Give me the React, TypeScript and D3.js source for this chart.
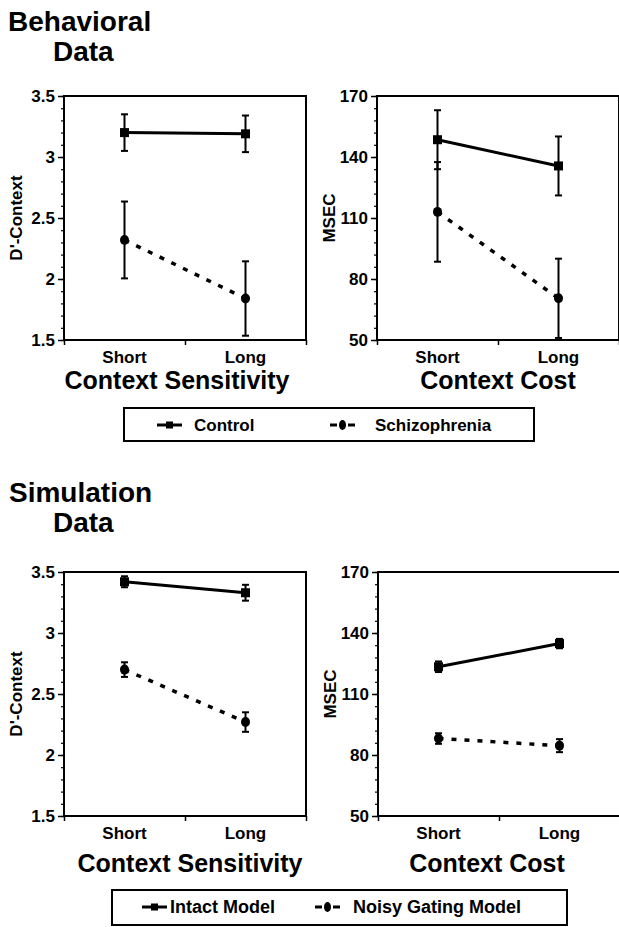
import React, { useEffect, useRef } from 'react';
import * as d3 from 'd3';

// categories on the x axis
const categories = ['Short', 'Long'];

// y axis tick labels
const dPrimeTicks = [1.5, 2, 2.5, 3, 3.5];
const msecTicks = [50, 80, 110, 140, 170];

// behavioral data
const behavControlD = [3.2, 3.19];
const behavControlDErr = [0.15, 0.15];
const behavSchizD = [2.32, 1.84];
const behavSchizDErr = [0.315, 0.305];
const behavControlMs = [148.5, 135.6];
const behavControlMsErr = [14.5, 14.5];
const behavSchizMs = [113, 70.5];
const behavSchizMsErr = [24.5, 19.5];

// simulation data
const simIntactD = [3.42, 3.33];
const simIntactDErr = [0.045, 0.065];
const simNoisyD = [2.7, 2.27];
const simNoisyDErr = [0.06, 0.08];
const simIntactMs = [123.4, 134.8];
const simIntactMsErr = [2.6, 2.3];
const simNoisyMs = [88.1, 84.6];
const simNoisyMsErr = [2.6, 3.2];

const FONT = '"Liberation Sans", Arial, Helvetica, sans-serif';
const W = 242;
const H = 244;

const panels = [
  { x0: 64, y0: 96, ticks: dPrimeTicks, minor: 0.1, yTitle: "D'-Context", xTitle: 'Context Sensitivity', titleCx: 177, titleY: 389,
    solid: behavControlD, solidErr: behavControlDErr, dotted: behavSchizD, dottedErr: behavSchizDErr },
  { x0: 377, y0: 96, ticks: msecTicks, minor: 6, yTitle: 'MSEC', xTitle: 'Context Cost', titleCx: 498, titleY: 389,
    solid: behavControlMs, solidErr: behavControlMsErr, dotted: behavSchizMs, dottedErr: behavSchizMsErr },
  { x0: 64, y0: 572, ticks: dPrimeTicks, minor: 0.1, yTitle: "D'-Context", xTitle: 'Context Sensitivity', titleCx: 190, titleY: 872,
    solid: simIntactD, solidErr: simIntactDErr, dotted: simNoisyD, dottedErr: simNoisyDErr },
  { x0: 378, y0: 572, ticks: msecTicks, minor: 6, yTitle: 'MSEC', xTitle: 'Context Cost', titleCx: 487, titleY: 872,
    solid: simIntactMs, solidErr: simIntactMsErr, dotted: simNoisyMs, dottedErr: simNoisyMsErr },
];

function useD3(render: (svg: any) => void, deps: any[]) {
  const ref = useRef<SVGSVGElement>(null);
  useEffect(() => {
    const svg = d3.select(ref.current);
    svg.selectAll('*').remove();
    render(svg);
  }, deps);
  return ref;
}

export default function App() {
  const ref = useD3((svg) => {
    svg.attr('font-family', FONT).attr('font-weight', 'bold');

    // section titles
    const titles = [
      { t: 'Behavioral', x: 8, y: 31 },
      { t: 'Data', x: 53, y: 61 },
      { t: 'Simulation', x: 9, y: 502 },
      { t: 'Data', x: 53, y: 532 },
    ];
    svg.selectAll('text.title').data(titles).enter().append('text')
      .attr('class', 'title')
      .attr('x', (d: any) => d.x).attr('y', (d: any) => d.y)
      .attr('font-size', 28)
      .text((d: any) => d.t);

    panels.forEach((p) => {
      const g = svg.append('g').attr('transform', `translate(${p.x0},${p.y0})`);
      const lo = p.ticks[0];
      const hi = p.ticks[p.ticks.length - 1];
      const y = d3.scaleLinear().domain([lo, hi]).range([H, 0]);
      const x = d3.scalePoint().domain(categories).range([0, W]).padding(0.5);

      // minor ticks
      const minorTicks = d3.range(lo, hi + p.minor / 2, p.minor);
      const minorAxis = g.append('g').call(d3.axisLeft(y).tickValues(minorTicks).tickSize(3).tickFormat(() => ''));
      minorAxis.select('.domain').remove();
      minorAxis.selectAll('line').attr('stroke-width', 1.2);

      // major ticks
      const yAxis = g.append('g').call(d3.axisLeft(y).tickValues(p.ticks).tickSize(6).tickPadding(3).tickFormat((d: any) => String(d)));
      yAxis.select('.domain').remove();
      yAxis.selectAll('line').attr('stroke-width', 1.5);
      yAxis.selectAll('text').attr('font-size', 17).attr('font-family', FONT).attr('font-weight', 'bold').attr('fill', '#000');

      // x ticks at box edges and middle
      const xEdge = d3.scaleLinear().domain([0, 1]).range([0, W]);
      const xAxis = g.append('g').attr('transform', `translate(0,${H})`)
        .call(d3.axisBottom(xEdge).tickValues([0, 0.5, 1]).tickSize(5).tickFormat(() => ''));
      xAxis.select('.domain').remove();
      xAxis.selectAll('line').attr('stroke-width', 1.5);

      // frame
      g.append('rect').attr('x', 0).attr('y', 0).attr('width', W).attr('height', H)
        .attr('fill', 'none').attr('stroke', '#000').attr('stroke-width', 2);

      // category labels
      g.selectAll('text.cat').data(categories).enter().append('text')
        .attr('class', 'cat')
        .attr('x', (d: string) => x(d)).attr('y', H + 23)
        .attr('text-anchor', 'middle').attr('font-size', 17)
        .text((d: string) => d);

      // axis titles
      g.append('text')
        .attr('transform', `translate(-42,${H / 2}) rotate(-90)`)
        .attr('text-anchor', 'middle').attr('font-size', 17)
        .text(p.yTitle);
      svg.append('text')
        .attr('x', p.titleCx).attr('y', p.titleY)
        .attr('text-anchor', 'middle').attr('font-size', 25)
        .text(p.xTitle);

      const series = [
        { vals: p.solid, errs: p.solidErr, dotted: false },
        { vals: p.dotted, errs: p.dottedErr, dotted: true },
      ];

      series.forEach((s) => {
        const pts = categories.map((c, i) => ({ c, v: s.vals[i], e: s.errs[i] }));
        const line = d3.line<any>().x((d) => x(d.c) as number).y((d) => y(d.v));
        g.append('path').datum(pts).attr('d', line)
          .attr('fill', 'none').attr('stroke', '#000')
          .attr('stroke-width', s.dotted ? 3.5 : 3)
          .attr('stroke-dasharray', s.dotted ? '5 8' : null);

        // error bars
        const eb = g.selectAll(null).data(pts).enter().append('g');
        eb.append('line')
          .attr('x1', (d: any) => x(d.c)).attr('x2', (d: any) => x(d.c))
          .attr('y1', (d: any) => y(Math.max(lo, d.v - d.e))).attr('y2', (d: any) => y(d.v + d.e))
          .attr('stroke', '#000').attr('stroke-width', 2);
        eb.append('line')
          .attr('x1', (d: any) => (x(d.c) as number) - 3.5).attr('x2', (d: any) => (x(d.c) as number) + 3.5)
          .attr('y1', (d: any) => y(d.v + d.e)).attr('y2', (d: any) => y(d.v + d.e))
          .attr('stroke', '#000').attr('stroke-width', 2);
        eb.filter((d: any) => d.v - d.e > lo).append('line')
          .attr('x1', (d: any) => (x(d.c) as number) - 3.5).attr('x2', (d: any) => (x(d.c) as number) + 3.5)
          .attr('y1', (d: any) => y(d.v - d.e)).attr('y2', (d: any) => y(d.v - d.e))
          .attr('stroke', '#000').attr('stroke-width', 2);

        // markers
        if (s.dotted) {
          eb.append('ellipse')
            .attr('cx', (d: any) => x(d.c)).attr('cy', (d: any) => y(d.v))
            .attr('rx', 4.5).attr('ry', 5).attr('fill', '#000');
        } else {
          eb.append('rect')
            .attr('x', (d: any) => (x(d.c) as number) - 4.5).attr('y', (d: any) => y(d.v) - 4.5)
            .attr('width', 9).attr('height', 9).attr('fill', '#000');
        }
      });
    });

    // legends
    const legends = [
      { x: 124, y: 408, w: 410, h: 33, fs: 17, base: 431, items: [
        { label: 'Control', sx: 157, tx: 194, dotted: false },
        { label: 'Schizophrenia', sx: 330, tx: 375, dotted: true },
      ] },
      { x: 112, y: 890, w: 455, h: 35, fs: 18, base: 913, items: [
        { label: 'Intact Model', sx: 142, tx: 170, dotted: false },
        { label: 'Noisy Gating Model', sx: 315, tx: 353, dotted: true },
      ] },
    ];
    legends.forEach((L) => {
      svg.append('rect').attr('x', L.x).attr('y', L.y).attr('width', L.w).attr('height', L.h)
        .attr('fill', 'none').attr('stroke', '#000').attr('stroke-width', 2);
      const cy = L.base - 6;
      L.items.forEach((it) => {
        if (it.dotted) {
          svg.append('line').attr('x1', it.sx).attr('x2', it.sx + 7).attr('y1', cy).attr('y2', cy)
            .attr('stroke', '#000').attr('stroke-width', 3);
          svg.append('line').attr('x1', it.sx + 18).attr('x2', it.sx + 25).attr('y1', cy).attr('y2', cy)
            .attr('stroke', '#000').attr('stroke-width', 3);
          svg.append('ellipse').attr('cx', it.sx + 12.5).attr('cy', cy).attr('rx', 3.5).attr('ry', 5).attr('fill', '#000');
        } else {
          svg.append('line').attr('x1', it.sx).attr('x2', it.sx + 25).attr('y1', cy).attr('y2', cy)
            .attr('stroke', '#000').attr('stroke-width', 3);
          svg.append('rect').attr('x', it.sx + 9).attr('y', cy - 3.5).attr('width', 7).attr('height', 7).attr('fill', '#000');
        }
        svg.append('text').attr('x', it.tx).attr('y', L.base).attr('font-size', L.fs).text(it.label);
      });
    });
  }, []);

  return (
    <svg
      ref={ref}
      width={619}
      height={927}
      style={{ position: 'absolute', left: 0, top: 0, display: 'block', background: '#fff', overflow: 'hidden' }}
    />
  );
}
